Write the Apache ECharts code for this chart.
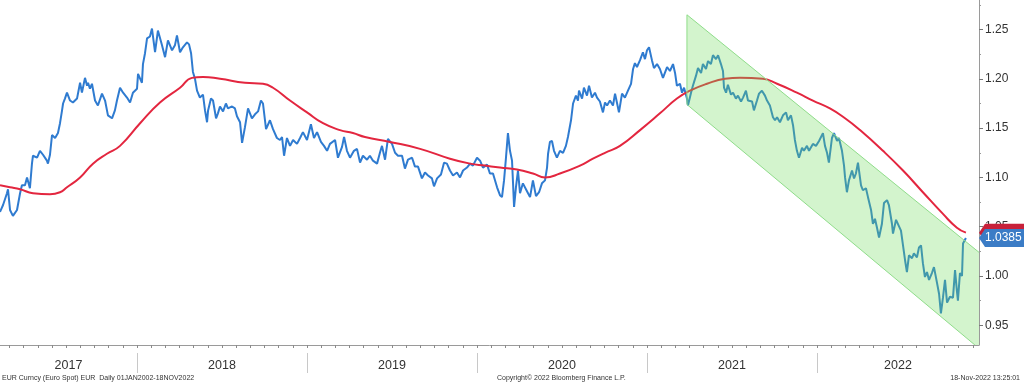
<!DOCTYPE html>
<html><head><meta charset="utf-8">
<script src="https://cdn.jsdelivr.net/npm/echarts@6/dist/echarts.min.js"></script>
<style>html,body{margin:0;padding:0;background:#fff}#c{width:1024px;height:383px}</style>
</head><body><div id="c"></div>
<script>
// EUR spot (decimal years / values)
const eurDates = [
2017.194,2017.212,2017.235,2017.241,2017.253,2017.270,2017.294,2017.312,2017.323,2017.341,2017.353,2017.370,2017.382,2017.388,2017.412,2017.429,2017.447,2017.470,2017.476,2017.488,2017.500,2017.518,2017.535,2017.547,2017.559,2017.565,2017.576,2017.588,2017.606,2017.623,2017.647,2017.665,2017.676,2017.694,2017.706,2017.712,2017.723,2017.735,2017.753,2017.770,2017.794,2017.812,2017.829,2017.853,2017.870,2017.882,2017.900,
2017.918,2017.941,2017.959,2017.976,2018.000,2018.006,2018.029,2018.035,2018.047,2018.059,2018.076,2018.088,2018.106,2018.123,2018.147,2018.165,2018.182,2018.206,2018.223,2018.235,2018.253,2018.270,2018.294,2018.306,2018.318,2018.329,2018.341,2018.353,2018.370,2018.388,2018.400,2018.412,2018.418,2018.435,2018.447,2018.465,2018.476,2018.488,2018.506,2018.523,2018.535,2018.559,2018.576,2018.588,2018.606,2018.618,
2018.635,2018.653,2018.676,2018.694,2018.712,2018.729,2018.741,2018.759,2018.782,2018.800,2018.823,2018.841,2018.853,2018.865,2018.882,2018.900,2018.918,2018.941,2018.959,2018.976,2019.000,2019.023,2019.041,2019.059,2019.082,2019.100,2019.118,2019.135,2019.165,2019.182,2019.206,2019.218,2019.235,2019.253,2019.276,2019.294,2019.312,
2019.329,2019.353,2019.370,2019.388,2019.412,2019.429,2019.441,2019.459,2019.476,2019.500,2019.518,2019.535,2019.559,2019.576,2019.594,2019.618,2019.635,2019.653,2019.676,2019.694,2019.712,2019.735,2019.747,2019.765,2019.788,2019.806,2019.823,2019.841,2019.859,2019.882,2019.900,2019.918,2019.941,2019.959,2019.976,2020.000,2020.018,
2020.035,2020.059,2020.076,2020.094,2020.118,2020.135,2020.147,2020.159,2020.170,2020.182,2020.194,2020.206,2020.212,2020.218,2020.229,2020.241,2020.253,2020.270,2020.294,2020.312,2020.329,2020.347,2020.365,2020.382,2020.400,2020.412,2020.418,2020.429,2020.441,2020.453,2020.470,2020.488,2020.506,2020.523,2020.535,2020.553,2020.565,2020.582,2020.594,2020.600,2020.618,2020.629,2020.647,2020.659,2020.676,2020.694,2020.706,2020.723,
2020.741,2020.753,2020.765,2020.782,2020.800,2020.812,2020.823,2020.835,2020.853,2020.870,2020.888,2020.906,2020.918,2020.929,2020.941,2020.959,2020.976,2020.988,2021.000,2021.012,2021.029,2021.041,2021.059,2021.076,2021.094,2021.118,2021.135,2021.153,2021.165,2021.176,2021.194,2021.206,2021.218,2021.235,2021.241,2021.259,2021.270,2021.288,2021.300,2021.318,2021.329,2021.347,2021.359,2021.376,2021.388,2021.406,2021.418,2021.435,
2021.447,2021.453,2021.465,2021.476,2021.494,2021.506,2021.523,2021.535,2021.553,2021.565,2021.582,2021.594,2021.618,2021.629,2021.647,2021.659,2021.676,2021.694,2021.706,2021.723,2021.741,2021.753,2021.765,2021.782,2021.800,2021.818,2021.829,2021.847,2021.859,2021.870,2021.882,2021.894,2021.912,2021.923,2021.941,2021.953,2021.976,2021.994,2022.012,2022.035,2022.047,2022.059,2022.070,2022.088,2022.100,2022.118,2022.129,2022.147,
2022.159,2022.165,2022.176,2022.188,2022.206,2022.218,2022.229,2022.241,2022.259,2022.270,2022.288,2022.300,2022.318,2022.329,2022.341,2022.353,2022.365,2022.382,2022.394,2022.412,2022.423,2022.441,2022.447,2022.465,2022.476,2022.494,2022.506,2022.518,2022.529,2022.541,2022.559,2022.570,2022.588,2022.600,2022.612,2022.623,2022.635,2022.647,2022.659,2022.676,2022.688,2022.706,2022.718,2022.729,2022.741,2022.753,2022.765,2022.782,2022.800,2022.812,2022.823,2022.829,2022.841,2022.853,2022.859,2022.876
];
const eurSpot = [
1.065,1.072,1.084,1.088,1.067,1.061,1.067,1.084,1.092,1.092,1.100,1.089,1.114,1.122,1.120,1.127,1.123,1.117,1.114,1.123,1.143,1.140,1.145,1.155,1.168,1.175,1.180,1.186,1.178,1.176,1.180,1.196,1.186,1.201,1.193,1.196,1.190,1.195,1.178,1.173,1.185,1.178,1.163,1.160,1.168,1.178,1.191,
1.186,1.181,1.176,1.186,1.190,1.205,1.196,1.215,1.226,1.241,1.243,1.251,1.227,1.249,1.234,1.222,1.239,1.229,1.234,1.244,1.227,1.232,1.237,1.235,1.226,1.207,1.200,1.188,1.181,1.184,1.168,1.156,1.168,1.180,1.178,1.160,1.165,1.172,1.167,1.175,1.170,1.172,1.170,1.162,1.156,1.135,
1.151,1.170,1.160,1.164,1.167,1.178,1.175,1.149,1.158,1.149,1.140,1.138,1.141,1.122,1.140,1.132,1.138,1.134,1.140,1.146,1.138,1.154,1.140,1.146,1.136,1.132,1.127,1.134,1.138,1.120,1.131,1.141,1.127,1.120,1.127,1.129,1.115,
1.122,1.118,1.122,1.117,1.114,1.125,1.132,1.118,1.139,1.134,1.125,1.122,1.122,1.109,1.118,1.120,1.111,1.111,1.099,1.105,1.102,1.099,1.091,1.099,1.103,1.115,1.114,1.107,1.102,1.105,1.100,1.107,1.110,1.114,1.112,1.120,1.117,
1.110,1.113,1.104,1.104,1.090,1.082,1.080,1.097,1.119,1.145,1.127,1.117,1.094,1.070,1.090,1.107,1.084,1.094,1.086,1.080,1.097,1.081,1.085,1.094,1.097,1.110,1.124,1.136,1.137,1.127,1.120,1.127,1.125,1.132,1.141,1.158,1.175,1.183,1.178,1.188,1.180,1.191,1.183,1.193,1.181,1.186,1.181,1.177,
1.166,1.176,1.173,1.178,1.173,1.185,1.176,1.166,1.185,1.181,1.188,1.195,1.210,1.216,1.212,1.219,1.227,1.220,1.229,1.232,1.219,1.211,1.215,1.210,1.201,1.212,1.208,1.215,1.206,1.193,1.195,1.186,1.191,1.180,1.173,1.186,1.193,1.203,1.211,1.206,1.215,1.210,1.218,1.215,1.224,1.220,1.224,1.215,
1.208,1.191,1.186,1.194,1.184,1.186,1.180,1.183,1.177,1.181,1.188,1.178,1.177,1.168,1.178,1.185,1.188,1.183,1.178,1.173,1.161,1.158,1.161,1.156,1.163,1.166,1.158,1.163,1.153,1.138,1.127,1.120,1.130,1.127,1.132,1.127,1.134,1.132,1.137,1.145,1.132,1.125,1.115,1.140,1.145,1.137,1.140,1.127,
1.112,1.100,1.085,1.097,1.107,1.099,1.104,1.115,1.092,1.087,1.089,1.080,1.067,1.053,1.058,1.049,1.039,1.053,1.074,1.077,1.072,1.053,1.043,1.057,1.059,1.046,1.031,1.016,1.004,1.021,1.018,1.023,1.019,1.029,1.031,1.013,0.999,1.004,0.996,1.003,1.009,0.993,0.982,0.962,0.978,0.996,0.973,0.979,0.978,1.006,0.985,0.975,1.003,1.000,1.033,1.0385
];
// Moving average (red)
const maDates = [
2017.194,2017.253,2017.312,2017.388,2017.488,2017.547,2017.588,2017.665,2017.741,2017.823,2017.900,
2018.018,2018.135,2018.253,2018.323,2018.388,2018.488,2018.635,2018.741,2018.800,2018.900,
2019.000,2019.094,2019.194,2019.270,2019.341,2019.488,2019.665,2019.841,2019.959,
2020.047,2020.135,2020.235,2020.329,2020.400,2020.488,2020.606,2020.682,2020.753,2020.841,2020.959,
2021.076,2021.176,2021.253,2021.353,2021.459,2021.547,2021.682,2021.765,2021.882,2021.976,
2022.076,2022.165,2022.253,2022.388,2022.506,2022.623,2022.741,2022.823,2022.876
];
const maValues = [
1.092,1.090,1.088,1.084,1.083,1.085,1.090,1.100,1.114,1.124,1.132,
1.155,1.176,1.191,1.201,1.202,1.200,1.196,1.195,1.191,1.178,
1.166,1.155,1.148,1.145,1.141,1.136,1.129,1.119,1.114,
1.112,1.110,1.108,1.104,1.100,1.104,1.112,1.119,1.125,1.132,1.148,
1.165,1.180,1.188,1.195,1.200,1.201,1.200,1.195,1.186,1.178,
1.170,1.160,1.148,1.127,1.107,1.085,1.063,1.049,1.044
];
// Downtrend channel (two boundary lines)
const channelUpper = [[2021.235, 1.265], [2022.953, 1.024]];
const channelLower = [[2021.235, 1.174], [2022.929, 0.930]];
const yTickLabels = ['0.95','1.00','1.05','1.10','1.15','1.20','1.25'];
const yearLabels = ['2017','2018','2019','2020','2021','2022'];
const lastSpot = '1.0385';
const lastMA = 1.044;
const footerLeft = 'EUR Curncy (Euro Spot) EUR  Daily 01JAN2002-18NOV2022';
const footerMid = 'Copyright\u00A9 2022 Bloomberg Finance L.P.';
const footerRight = '18-Nov-2022 13:25:01';

const X_MIN = 2017.194, X_MAX = 2022.953, Y_MIN = 0.93, Y_MAX = 1.28;
const FONT = 'Liberation Sans';
const monthTicks = [];
for (let y = 2017; y <= 2022; y++) for (let m = 0; m < 12; m++) { const v = y + m / 12; if (v > X_MIN && v < X_MAX) monthTicks.push(v); }
const yearStarts = yearLabels.map(Number).filter(v => v > X_MIN && v < X_MAX);
const yearCenters = yearLabels.map(s => { const y = +s; return (Math.max(y, X_MIN) + Math.min(y + 1, X_MAX)) / 2; });
const yTicks = yTickLabels.map(Number);
const yMinor = yTicks.map(v => +(v + 0.025).toFixed(3)).filter(v => v < Y_MAX);

const chart = echarts.init(document.getElementById('c'), null, {renderer: 'canvas'});
chart.setOption({
  animation: false,
  backgroundColor: '#fff',
  grid: {left: 0, right: 45, top: 0, bottom: 38, containLabel: false, outerBoundsMode: 'none'},
  xAxis: [
    {type: 'value', min: X_MIN, max: X_MAX, position: 'bottom',
     axisLine: {show: true, lineStyle: {color: '#9a9a9a', width: 1}},
     axisTick: {show: true, customValues: monthTicks, length: 3, lineStyle: {color: '#8a8a8a'}},
     axisLabel: {show: true, customValues: yearCenters, margin: 14, fontSize: 12.5, color: '#333', fontFamily: FONT,
       formatter: v => yearLabels[yearCenters.reduce((b, c, i) => Math.abs(c - v) < Math.abs(yearCenters[b] - v) ? i : b, 0)]},
     splitLine: {show: false}},
    {type: 'value', min: X_MIN, max: X_MAX, position: 'bottom', offset: 8,
     axisLine: {show: false},
     axisTick: {show: true, customValues: yearStarts, length: 20, lineStyle: {color: '#c8c8c8'}},
     axisLabel: {show: false}, splitLine: {show: false}}
  ],
  yAxis: [
    {type: 'value', position: 'right', min: Y_MIN, max: Y_MAX,
     axisLine: {show: true, lineStyle: {color: '#9a9a9a'}},
     axisTick: {show: true, customValues: yTicks, length: 4, lineStyle: {color: '#777'}},
     axisLabel: {customValues: yTicks, formatter: v => v.toFixed(2), margin: 6, fontSize: 12, color: '#333', fontFamily: FONT},
     splitLine: {show: false}},
    {type: 'value', position: 'right', min: Y_MIN, max: Y_MAX,
     axisLine: {show: false},
     axisTick: {show: true, customValues: yMinor, length: 2, lineStyle: {color: '#999'}},
     axisLabel: {show: false}, splitLine: {show: false}}
  ],
  series: [
    {type: 'line', data: eurDates.map((d, i) => [d, eurSpot[i]]), showSymbol: false, silent: true,
     lineStyle: {color: '#2f7bd0', width: 2}, z: 2},
    {type: 'line', data: maDates.map((d, i) => [d, maValues[i]]), showSymbol: false, silent: true, smooth: 0.5,
     lineStyle: {color: '#e3263f', width: 2}, z: 2},
    {type: 'custom', silent: true, clip: true, z: 3, data: [[2022, 1.1]],
     renderItem: (params, api) => {
       const pts = [channelUpper[0], channelUpper[1], [X_MAX, Y_MIN], channelLower[1], channelLower[0]].map(p => api.coord(p));
       const edge = [channelUpper[1], channelUpper[0], channelLower[0], channelLower[1]].map(p => api.coord(p));
       return {type: 'group', children: [
         {type: 'polygon', shape: {points: pts}, style: {fill: 'rgba(110,220,90,0.3)'}},
         {type: 'polyline', shape: {points: edge}, style: {stroke: '#8fdc8a', lineWidth: 1, fill: null}}
       ]};
     }}
  ]
});

const ax = chart.convertToPixel({xAxisIndex: 0}, X_MAX);
const yS = chart.convertToPixel({yAxisIndex: 0}, +lastSpot);
const yM = chart.convertToPixel({yAxisIndex: 0}, lastMA);
function tag(y, color) {
  return {type: 'polygon', z: 100, shape: {points: [[ax, y], [ax + 6, y - 9], [1024, y - 9], [1024, y + 9], [ax + 6, y + 9]]}, style: {fill: color}};
}
chart.setOption({graphic: [
  tag(yM, '#c8213a'),
  tag(yS, '#3b7cc6'),
  {type: 'text', z: 101, x: ax + 6, y: yS, style: {text: lastSpot, fill: '#fff', font: '12px ' + FONT, verticalAlign: 'middle'}},
  {type: 'text', z: 101, x: 2, y: 378, style: {text: footerLeft, fill: '#333', font: '7px ' + FONT, verticalAlign: 'middle'}},
  {type: 'text', z: 101, x: 497, y: 378, style: {text: footerMid, fill: '#333', font: '7px ' + FONT, verticalAlign: 'middle'}},
  {type: 'text', z: 101, x: 1020, y: 378, style: {text: footerRight, fill: '#333', font: '7px ' + FONT, verticalAlign: 'middle', align: 'right'}}
]});
</script></body></html>
